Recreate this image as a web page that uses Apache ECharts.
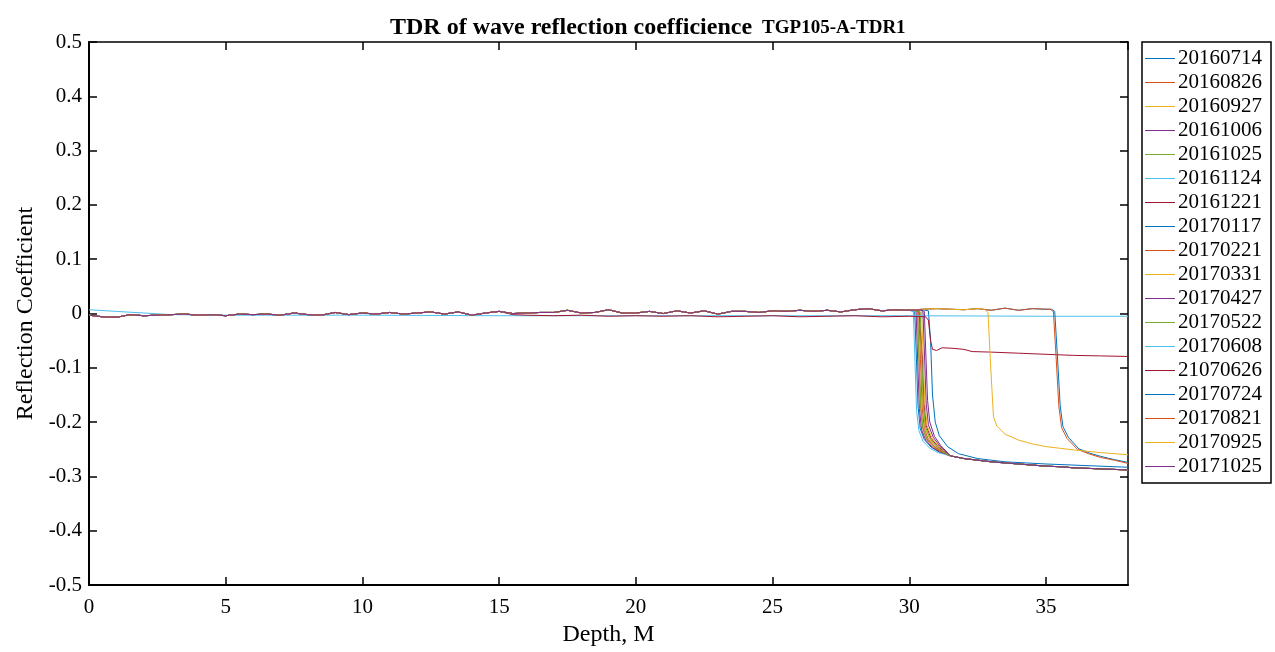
<!DOCTYPE html>
<html><head><meta charset="utf-8">
<script src="https://cdn.jsdelivr.net/npm/echarts@6/dist/echarts.min.js"></script>
<style>html,body{margin:0;padding:0;background:#fff}#c{width:1275px;height:652px}</style>
</head><body><div id="c"></div>
<script>
// ---- data ----
const seriesNames = ['20160714','20160826','20160927','20161006','20161025','20161124','20161221','20170117','20170221','20170331','20170427','20170522','20170608','21070626','20170724','20170821','20170925','20171025'];
const seriesColors = ['#0072BD','#D95319','#EDB120','#7E2F8E','#77AC30','#4DBEEE','#A2142F','#0072BD','#D95319','#EDB120','#7E2F8E','#77AC30','#4DBEEE','#A2142F','#0072BD','#D95319','#EDB120','#7E2F8E'];
const xTicks = [0,5,10,15,20,25,30,35];
const yTicks = [-0.5,-0.4,-0.3,-0.2,-0.1,0,0.1,0.2,0.3,0.4,0.5];

// common wiggly baseline before the reflection drop (depth, coefficient)
const baseDepth = [0,0.5,1,1.5,2,2.5,3,3.5,4,4.5,5,5.5,6,6.5,7,7.5,8,8.5,9,9.5,10,10.5,11,11.5,12,12.5,13,13.5,14,14.5,15,15.5,16,16.5,17,17.5,18,18.5,19,19.5,20,20.5,21,21.5,22,22.5,23,23.5,24,24.5,25,25.5,26,26.5,27,27.5,28,28.5,29,29.5,30];
const baseValue = [-0.003,-0.006,-0.007,-0.002,-0.004,-0.003,-0.002,-0.001,-0.003,-0.002,-0.004,-0.001,-0.002,-0.001,-0.003,0.001,-0.002,-0.003,0.002,-0.002,0.001,-0.001,0.002,-0.001,0.001,0.003,-0.001,0.003,-0.003,0.001,0.004,0.000,0.001,0.002,0.002,0.006,0.001,0.002,0.007,0.001,0.001,0.004,0.000,0.005,0.001,0.005,-0.001,0.004,0.004,0.002,0.005,0.004,0.006,0.004,0.006,0.003,0.007,0.009,0.005,0.007,0.006];
// continuation for the lines that drop later than 30 m
const extDepth = [30.5,31,31.5,32,32.5,33,33.5,34,34.5,35];
const extValue = [0.008,0.009,0.008,0.007,0.009,0.006,0.010,0.006,0.009,0.008];
// shared late part of the main group
const groupTail = [[31.5,-0.262],[32,-0.267],[32.5,-0.270],[33,-0.273],[33.5,-0.275],[34,-0.277],[34.5,-0.279],[35,-0.281],[35.5,-0.282],[36,-0.284],[36.5,-0.285],[37,-0.286],[37.5,-0.287],[38,-0.288]];

const drop01 = [[30.1,0.006],[30.2,0.003],[30.26,-0.08],[30.32,-0.17],[30.4,-0.212],[30.55,-0.232],[30.8,-0.246],[31.1,-0.255]];
const drop02 = [[30.2,0.007],[30.3,0.004],[30.36,-0.09],[30.42,-0.175],[30.5,-0.213],[30.65,-0.233],[30.9,-0.247],[31.2,-0.256]];
const drop03 = [[30.3,0.006],[30.38,0.003],[30.44,-0.08],[30.5,-0.17],[30.58,-0.21],[30.75,-0.232],[31,-0.246],[31.3,-0.257]];
const drop04 = [[30.15,0.007],[30.25,0.004],[30.31,-0.09],[30.37,-0.175],[30.45,-0.214],[30.6,-0.233],[30.85,-0.247],[31.15,-0.256]];
const drop05 = [[30.2,0.006],[30.3,0.003],[30.36,-0.085],[30.42,-0.17],[30.5,-0.211],[30.65,-0.231],[30.9,-0.245],[31.2,-0.255]];
const drop06 = [[30.05,0.006],[30.15,0.003],[30.21,-0.09],[30.27,-0.18],[30.35,-0.215],[30.5,-0.235],[30.75,-0.248],[31.05,-0.256]];
const drop07 = [[30.35,0.007],[30.42,0.004],[30.48,-0.08],[30.54,-0.165],[30.62,-0.207],[30.8,-0.23],[31.05,-0.245],[31.35,-0.257]];
const drop08 = [[30.5,0.007],[30.7,0.005],[30.78,-0.05],[30.85,-0.15],[30.95,-0.2],[31.1,-0.225],[31.4,-0.245],[31.8,-0.258],[32.5,-0.267],[33.5,-0.273],[35,-0.277],[36.5,-0.280],[38,-0.283]];
const drop09 = [[30.25,0.006],[30.35,0.003],[30.41,-0.085],[30.47,-0.172],[30.55,-0.212],[30.7,-0.232],[30.95,-0.246],[31.25,-0.256]];
const drop10 = [[30.35,0.007],[30.45,0.004],[30.51,-0.08],[30.57,-0.165],[30.65,-0.206],[30.82,-0.228],[31.08,-0.244],[31.38,-0.257]];
const drop11 = [[30.4,0.007],[30.5,0.004],[30.56,-0.08],[30.62,-0.165],[30.7,-0.205],[30.88,-0.228],[31.12,-0.244],[31.4,-0.258]];
const drop12 = [[30.3,0.006],[30.4,0.003],[30.46,-0.085],[30.52,-0.17],[30.6,-0.21],[30.77,-0.231],[31.02,-0.246],[31.32,-0.257]];
const flat13 = [[0,0.007],[1,0.004],[2,0.001],[3,-0.002],[5,-0.003],[10,-0.003],[15,-0.004],[20,-0.004],[25,-0.004],[30,-0.004],[35,-0.005],[38,-0.005]];
const low14 = [[15.5,-0.002],[16,-0.003],[17,-0.004],[18,-0.003],[19,-0.005],[20,-0.004],[21,-0.005],[22,-0.004],[23,-0.006],[24,-0.005],[25,-0.004],[26,-0.006],[27,-0.005],[28,-0.004],[29,-0.006],[30,-0.005],[30.6,-0.006],[30.7,-0.012],[30.78,-0.05],[30.85,-0.066],[31,-0.068],[31.2,-0.063],[31.6,-0.064],[32,-0.066],[32.3,-0.070],[33,-0.071],[34,-0.073],[35,-0.075],[36,-0.077],[37,-0.078],[38,-0.079]];
const drop15 = [[35.2,0.008],[35.32,0.004],[35.42,-0.08],[35.52,-0.17],[35.62,-0.208],[35.82,-0.228],[36.2,-0.249],[36.6,-0.257],[37,-0.263],[37.5,-0.269],[38,-0.274]];
const drop16 = [[35.15,0.008],[35.27,0.004],[35.37,-0.08],[35.47,-0.17],[35.57,-0.21],[35.77,-0.23],[36.15,-0.25],[36.55,-0.258],[37,-0.265],[37.5,-0.27],[38,-0.276]];
const drop17 = [[32.75,0.008],[32.88,0.002],[32.98,-0.1],[33.08,-0.19],[33.2,-0.207],[33.5,-0.222],[34,-0.233],[34.5,-0.240],[35,-0.245],[35.5,-0.248],[36,-0.251],[37,-0.256],[38,-0.260]];
const drop18 = [[30.45,0.007],[30.55,0.004],[30.61,-0.08],[30.67,-0.16],[30.75,-0.2],[30.92,-0.226],[31.15,-0.243],[31.42,-0.257]];

// ---- build series data ----
function basePts(limit){const r=[];for(let i=0;i<baseDepth.length;i++){if(baseDepth[i]<limit)r.push([baseDepth[i],baseValue[i]]);}return r;}
function extPts(limit){const r=[];for(let i=0;i<extDepth.length;i++){if(extDepth[i]<limit)r.push([extDepth[i],extValue[i]]);}return r;}
function grp(drop){return basePts(drop[0][0]).concat(drop, groupTail);}
const seriesData = [
  grp(drop01), grp(drop02), grp(drop03), grp(drop04), grp(drop05), grp(drop06), grp(drop07),
  basePts(drop08[0][0]).concat(drop08),
  grp(drop09), grp(drop10), grp(drop11), grp(drop12),
  flat13,
  basePts(low14[0][0]).concat(low14),
  basePts(30.5).concat(extPts(drop15[0][0]), drop15),
  basePts(30.5).concat(extPts(drop16[0][0]), drop16),
  basePts(30.5).concat(extPts(drop17[0][0]), drop17),
  grp(drop18)
];

const FONT = 'Liberation Serif';
const chart = echarts.init(document.getElementById('c'), null, {renderer:'canvas'});
const series = seriesNames.map((n,i)=>({
  name:n, type:'line', data:seriesData[i], showSymbol:false, symbol:'none',
  lineStyle:{width:1, color:seriesColors[i]}, itemStyle:{color:seriesColors[i]},
  animation:false, xAxisIndex:0, yAxisIndex:0
}));

chart.setOption({
  animation:false,
  backgroundColor:'#fff',
  title:{
    text:'{a|TDR of wave reflection coefficience}  {b|TGP105-A-TDR1}',
    left:385, top:11,
    textStyle:{rich:{
      a:{fontFamily:FONT,fontWeight:'bold',fontSize:24,color:'#000'},
      b:{fontFamily:FONT,fontWeight:'bold',fontSize:19,color:'#000'}
    }}
  },
  legend:{
    orient:'vertical', left:1142, top:42,
    data:seriesNames,
    icon:'rect', itemWidth:30, itemHeight:1, itemGap:3,
    padding:[6,9,6,3],
    borderColor:'#000', borderWidth:1.5, backgroundColor:'#fff',
    textStyle:{fontFamily:FONT,fontSize:21,color:'#000',padding:[0,0,0,-2]}
  },
  grid:{left:89, right:147, top:42, bottom:63, containLabel:false},
  xAxis:[
    {type:'value', min:0, max:38, interval:5, position:'bottom',
     name:'Depth, M', nameLocation:'middle', nameGap:33,
     nameTextStyle:{fontFamily:FONT,fontSize:24,color:'#000'},
     axisLine:{show:true,onZero:false,lineStyle:{color:'#000',width:2}},
     axisTick:{show:true,inside:true,length:8,lineStyle:{color:'#000',width:1.5}},
     axisLabel:{fontFamily:FONT,fontSize:21,color:'#000',margin:12,showMaxLabel:false,
       formatter:function(v){return xTicks.indexOf(v)>=0?String(v):'';}},
     splitLine:{show:false}},
    {type:'value', min:0, max:38, interval:5, position:'top',
     axisLine:{show:true,onZero:false,lineStyle:{color:'#000',width:1.5}},
     axisTick:{show:true,inside:true,length:8,lineStyle:{color:'#000',width:1.5}},
     axisLabel:{show:false}, splitLine:{show:false}}
  ],
  yAxis:[
    {type:'value', min:-0.5, max:0.5, interval:0.1, position:'left',
     name:'Reflection Coefficient', nameLocation:'middle', nameGap:49, nameRotate:90,
     nameTextStyle:{fontFamily:FONT,fontSize:24,color:'#000'},
     axisLine:{show:true,onZero:false,lineStyle:{color:'#000',width:2}},
     axisTick:{show:true,inside:true,length:8,lineStyle:{color:'#000',width:1.5}},
     axisLabel:{fontFamily:FONT,fontSize:21,color:'#000',margin:7,
       formatter:function(v){const r=Math.round(v*10)/10;return yTicks.indexOf(r)>=0?String(r):'';}},
     splitLine:{show:false}},
    {type:'value', min:-0.5, max:0.5, interval:0.1, position:'right',
     axisLine:{show:true,onZero:false,lineStyle:{color:'#000',width:1.5}},
     axisTick:{show:true,inside:true,length:8,lineStyle:{color:'#000',width:1.5}},
     axisLabel:{show:false}, splitLine:{show:false}}
  ],
  series:series
});
</script>
</body></html>
